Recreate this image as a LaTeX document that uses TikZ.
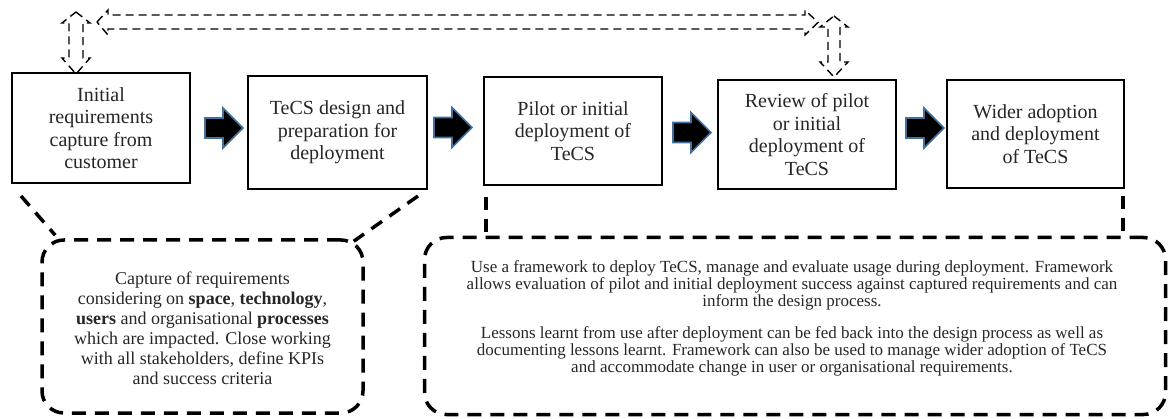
\documentclass[tikz,border=0pt]{standalone}
\usepackage{fontspec}
\setmainfont{Liberation Serif}
\usetikzlibrary{calc}
\definecolor{arrowblue}{RGB}{65,113,156}
\definecolor{txt}{RGB}{38,38,38}
\begin{document}
\begin{tikzpicture}[x=1pt,y=-1pt,
  stagebox/.style={draw=black, line width=2pt, fill=white, inner sep=0pt, align=center,
    text=txt, font=\fontsize{20}{22.5}\selectfont},
  calloutbox/.style={draw=black, line width=3.5pt, dash pattern=on 14pt off 9pt,
    rounded corners=22pt, inner sep=0pt},
  pointer/.style={draw=black, line width=3.5pt, dash pattern=on 13pt off 9pt},
  loopline/.style={draw=black, line width=1.4pt, dash pattern=on 8pt off 5pt},
  blockstyle/.style={fill=black, draw=arrowblue, line width=1.6pt, line join=miter},
  blockarr/.pic={\path[blockstyle] (0,-10) -- (18,-10) -- (18,-20) -- (38,0) -- (18,20) -- (18,10) -- (0,10) -- cycle;},
  calltext/.style={align=center, text=txt, inner sep=0pt}
]
\useasboundingbox (0,0) rectangle (1169,419);

% stage boxes
\node[stagebox, minimum width=178pt, minimum height=110pt] (b1) at (101,128) {Initial\\requirements\\capture from\\customer};
\node[stagebox, minimum width=179pt, minimum height=113pt] (b2) at (337.5,132.5) {TeCS design and\\preparation for\\deployment};
\node[stagebox, minimum width=178pt, minimum height=108pt] (b3) at (573,131) {Pilot or initial\\deployment of\\TeCS};
\node[stagebox, minimum width=178pt, minimum height=109pt] (b4) at (807,134.5) {Review of pilot\\or initial\\deployment of\\TeCS};
\node[stagebox, minimum width=177pt, minimum height=108pt] (b5) at (1035.5,134) {Wider adoption\\and deployment\\of TeCS};

% block arrows between stages
\pic at (205,128) {blockarr};
\pic at (434,127.5) {blockarr};
\pic at (673,132.5) {blockarr};
\pic at (906,128) {blockarr};

% dashed feedback loop arrows (top)
\path[loopline] (76,12) -- (90,23) -- (83,23) -- (83,58) -- (90,58) -- (76,74) -- (62,58) -- (69,58) -- (69,23) -- (62,23) -- cycle;
\path[loopline] (97,22) -- (108,10) -- (108,15) -- (805,15) -- (805,10) -- (818,22.5) -- (805,35) -- (805,29) -- (108,29) -- (108,35) -- cycle;
\path[loopline] (834,16) -- (848,27) -- (840,27) -- (840,62) -- (848,62) -- (834,77) -- (820,62) -- (828,62) -- (828,27) -- (820,27) -- cycle;

% callouts
\node[calloutbox, minimum width=321pt, minimum height=173pt] (c1) at (202.5,326.5) {};
\node[calloutbox, minimum width=741pt, minimum height=177pt] (c2) at (795,326) {};

\node[calltext, font=\fontsize{18}{20}\selectfont] (t1) at (202.5,328.5) {Capture of requirements\\considering on \textbf{space}, \textbf{technology},\\\textbf{users} and organisational \textbf{processes}\\which are impacted. Close working\\with all stakeholders, define KPIs\\and success criteria};

\node[calltext, font=\fontsize{17}{17}\selectfont] (t2) at (792,318) {Use a framework to deploy TeCS, manage and evaluate usage during deployment. Framework\\allows evaluation of pilot and initial deployment success against captured requirements and can\\inform the design process.\\[15pt]Lessons learnt from use after deployment can be fed back into the design process as well as\\documenting lessons learnt. Framework can also be used to manage wider adoption of TeCS\\and accommodate change in user or organisational requirements.};

% callout pointers
\coordinate (p1) at ($(b1.south west)+(10,12)$);
\coordinate (q1) at ($(c1.north west)+(15,-3)$);
\coordinate (p2) at ($(b2.south east)+(-10,6)$);
\coordinate (q2) at ($(c1.north east)+(-11,3)$);
\coordinate (p3) at ($(b3.south west)+(3,11)$);
\coordinate (q3) at (p3 |- c2.north);
\coordinate (p4) at ($(b5.south east)+(-2,7)$);
\coordinate (q4) at (p4 |- c2.north);
\path[pointer] (p1) -- (q1);
\path[pointer] (p2) -- (q2);
\path[pointer] (p3) -- (q3);
\path[pointer] (p4) -- (q4);
\end{tikzpicture}
\end{document}
